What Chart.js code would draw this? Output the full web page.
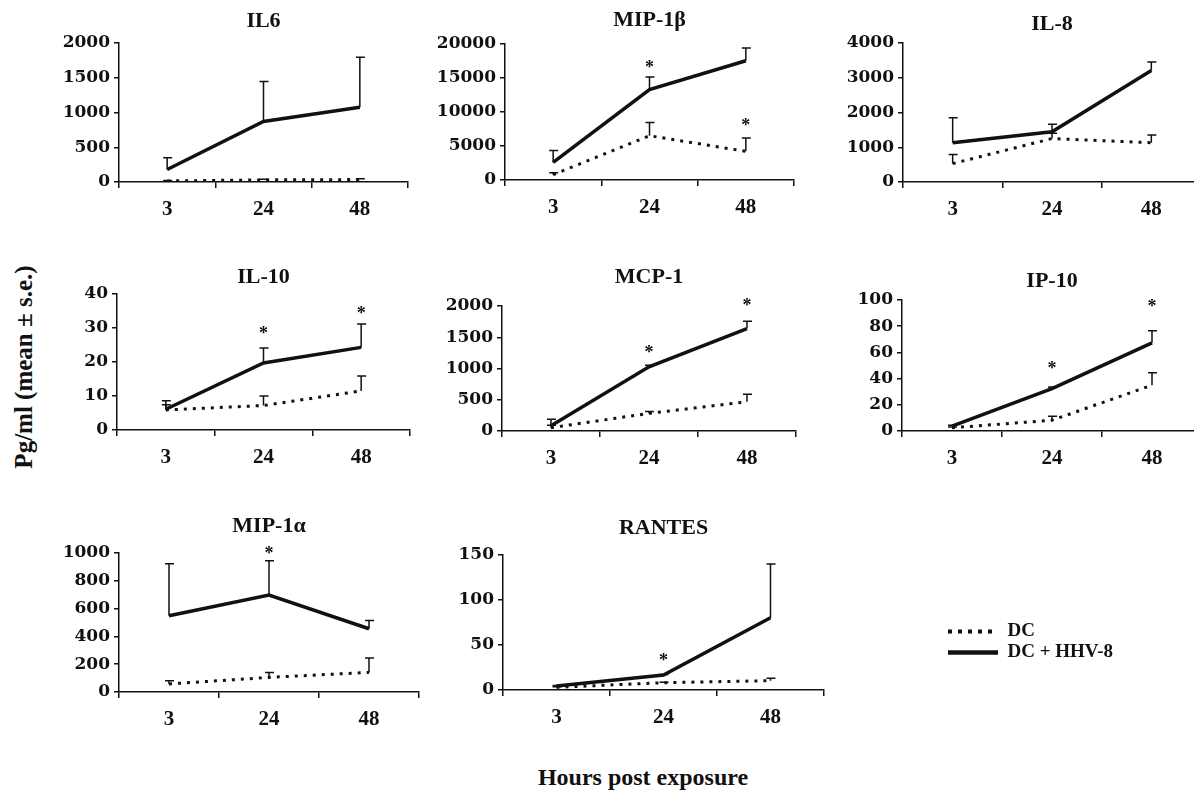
<!DOCTYPE html>
<html>
<head>
<meta charset="utf-8">
<script src="https://cdn.jsdelivr.net/npm/chart.js@4.4.1/dist/chart.umd.min.js"></script>
<style>
  html, body { margin: 0; padding: 0; background: #fff; }
  #fig { position: relative; width: 1194px; height: 791px; overflow: hidden; }
  #fig canvas { position: absolute; }
  .axis-title {
    position: absolute;
    font-family: "Liberation Serif", "Times New Roman", serif;
    font-weight: bold;
    color: #111;
    white-space: nowrap;
  }
  #ytitle { left: 24px; top: 367px; font-size: 25px; transform: translate(-50%, -50%) rotate(-90deg); }
  #xtitle { left: 643px; top: 777px; font-size: 24px; transform: translate(-50%, -50%); }
</style>
</head>
<body>
<div id="fig">
  <div class="axis-title" id="ytitle">Pg/ml (mean ± s.e.)</div>
  <div class="axis-title" id="xtitle">Hours post exposure</div>
</div>
<script>
// hours after exposure (x categories)
const hours = ['3', '24', '48'];

// cytokine levels, pg/ml: mean and upper s.e. for DC alone and DC + HHV-8
const il6Dc = [15, 30, 35];
const il6DcSe = [8, 10, 12];
const il6Hhv = [180, 870, 1075];
const il6HhvSe = [170, 575, 720];
const il6Stars = [null, null, null];

const mip1bDc = [780, 6510, 4210];
const mip1bDcSe = [300, 1960, 1960];
const mip1bHhv = [2590, 13280, 17540];
const mip1bHhvSe = [1760, 1870, 1860];
const mip1bStars = [null, 16800, 8380];

const il8Dc = [530, 1250, 1130];
const il8DcSe = [260, 150, 220];
const il8Hhv = [1130, 1445, 3210];
const il8HhvSe = [720, 220, 240];
const il8Stars = [null, null, null];

const il10Dc = [5.9, 7.2, 11.5];
const il10DcSe = [1.5, 2.8, 4.4];
const il10Hhv = [6.1, 19.7, 24.3];
const il10HhvSe = [2.5, 4.4, 6.9];
const il10Stars = [null, 29, 35];

const mcp1Dc = [53, 282, 468];
const mcp1DcSe = [40, 30, 122];
const mcp1Hhv = [85, 1027, 1639];
const mcp1HhvSe = [102, 26, 117];
const mcp1Stars = [null, 1290, 2040];

const ip10Dc = [2.5, 8.2, 35];
const ip10DcSe = [0.5, 3, 9.4];
const ip10Hhv = [3.8, 32.4, 67.3];
const ip10HhvSe = [0.5, 1.1, 9.2];
const ip10Stars = [null, 49, 97];

const mip1aDc = [58, 105, 141];
const mip1aDcSe = [23, 36, 104];
const mip1aHhv = [549, 698, 455];
const mip1aHhvSe = [374, 247, 60];
const mip1aStars = [null, 1010, null];

const rantesDc = [3, 8.1, 10.4];
const rantesDcSe = [0.5, 0.5, 2.6];
const rantesHhv = [4.4, 16.7, 80.3];
const rantesHhvSe = [0.5, 0.5, 59.7];
const rantesStars = [null, 35, null];

const INK = '#111';
const SERIF = '"Liberation Serif", "Times New Roman", serif';
const Y_W = 80;        // fixed y-axis width
const X_H = 40;        // fixed x-axis height
const TITLE_SIZE = 22;
const TITLE_LH = TITLE_SIZE * 1.2;

// one entry per small chart; box = plot area [left, top, right, bottom] on the page
const panels = [
  { name: 'IL6',     dc: il6Dc,   dcSe: il6DcSe,   hhv: il6Hhv,   hhvSe: il6HhvSe,   stars: il6Stars,   max: 2000,  step: 500,  box: [119, 43, 408, 182],   titleY: 21 },
  { name: 'MIP-1β',  dc: mip1bDc, dcSe: mip1bDcSe, hhv: mip1bHhv, hhvSe: mip1bHhvSe, stars: mip1bStars, max: 20000, step: 5000, box: [505, 44, 794, 180],   titleY: 20 },
  { name: 'IL-8',    dc: il8Dc,   dcSe: il8DcSe,   hhv: il8Hhv,   hhvSe: il8HhvSe,   stars: il8Stars,   max: 4000,  step: 1000, box: [903, 43, 1201, 182],  titleY: 24 },
  { name: 'IL-10',   dc: il10Dc,  dcSe: il10DcSe,  hhv: il10Hhv,  hhvSe: il10HhvSe,  stars: il10Stars,  max: 40,    step: 10,   box: [117, 294, 410, 430],  titleY: 277 },
  { name: 'MCP-1',   dc: mcp1Dc,  dcSe: mcp1DcSe,  hhv: mcp1Hhv,  hhvSe: mcp1HhvSe,  stars: mcp1Stars,  max: 2000,  step: 500,  box: [502, 306, 796, 431],  titleY: 277 },
  { name: 'IP-10',   dc: ip10Dc,  dcSe: ip10DcSe,  hhv: ip10Hhv,  hhvSe: ip10HhvSe,  stars: ip10Stars,  max: 100,   step: 20,   box: [902, 300, 1202, 431], titleY: 281 },
  { name: 'MIP-1α',  dc: mip1aDc, dcSe: mip1aDcSe, hhv: mip1aHhv, hhvSe: mip1aHhvSe, stars: mip1aStars, max: 1000,  step: 200,  box: [119, 553, 419, 692],  titleY: 526 },
  { name: 'RANTES',  dc: rantesDc, dcSe: rantesDcSe, hhv: rantesHhv, hhvSe: rantesHhvSe, stars: rantesStars, max: 150, step: 50, box: [503, 555, 824, 690], titleY: 528 }
];

// upward s.e. whiskers with a small cap
const errorBars = {
  id: 'errorBars',
  afterDatasetsDraw(chart) {
    const ctx = chart.ctx;
    const y = chart.scales.y;
    ctx.save();
    ctx.strokeStyle = INK;
    ctx.lineWidth = 1.5;
    chart.data.datasets.forEach((ds, di) => {
      const meta = chart.getDatasetMeta(di);
      ds.se.forEach((se, i) => {
        const px = meta.data[i].x;
        const top = y.getPixelForValue(ds.data[i] + se);
        ctx.beginPath();
        ctx.moveTo(px, y.getPixelForValue(ds.data[i]));
        ctx.lineTo(px, top);
        ctx.moveTo(px - 4, top);
        ctx.lineTo(px + 5, top);
        ctx.stroke();
      });
    });
    ctx.restore();
  }
};

// significance asterisks
const stars = {
  id: 'stars',
  afterDatasetsDraw(chart, args, opts) {
    const ctx = chart.ctx;
    const x = chart.scales.x, y = chart.scales.y;
    ctx.save();
    ctx.font = 'bold 18px ' + SERIF;
    ctx.fillStyle = INK;
    ctx.textAlign = 'center';
    ctx.textBaseline = 'middle';
    opts.values.forEach((v, i) => {
      if (v == null) return;
      ctx.fillText('*', x.getPixelForValue(i), y.getPixelForValue(v) + 3);
    });
    ctx.restore();
  }
};

const fig = document.getElementById('fig');

panels.forEach(p => {
  const [left, top, right, bottom] = p.box;
  const cTop = Math.round(p.titleY - TITLE_LH / 2);
  const canvas = document.createElement('canvas');
  canvas.width = right - left + Y_W + 4;
  canvas.height = bottom - cTop + X_H;
  canvas.style.left = (left - Y_W) + 'px';
  canvas.style.top = cTop + 'px';
  fig.appendChild(canvas);

  new Chart(canvas, {
    type: 'line',
    data: {
      labels: hours,
      datasets: [
        { label: 'DC', data: p.dc, se: p.dcSe, borderColor: INK, borderWidth: 3, borderDash: [3, 6] },
        { label: 'DC + HHV-8', data: p.hhv, se: p.hhvSe, borderColor: INK, borderWidth: 3.5 }
      ]
    },
    options: {
      responsive: false,
      animation: false,
      devicePixelRatio: 1,
      elements: { point: { radius: 0 }, line: { tension: 0 } },
      layout: { padding: { top: 0, left: 0, bottom: 0, right: 4 } },
      scales: {
        x: {
          offset: true,
          grid: { drawOnChartArea: false, offset: true, tickLength: 6, color: INK, lineWidth: 1.5 },
          border: { color: INK, width: 1.5 },
          ticks: { color: INK, font: { family: SERIF, size: 21, weight: 'bold' }, padding: 9, maxRotation: 0, autoSkip: false },
          afterFit(scale) { scale.height = X_H; }
        },
        y: {
          min: 0,
          max: p.max,
          grid: { drawOnChartArea: false, tickLength: 5, color: INK, lineWidth: 1.5 },
          border: { color: INK, width: 1.5 },
          ticks: {
            stepSize: p.step,
            color: INK,
            font: { family: '"DejaVu Serif", serif', size: 17, weight: 'bold' },
            padding: 4,
            callback: v => String(v)
          },
          afterFit(scale) { scale.width = Y_W; }
        }
      },
      plugins: {
        title: {
          display: true,
          text: p.name,
          fullSize: false,
          color: INK,
          font: { family: SERIF, size: TITLE_SIZE, weight: 'bold', lineHeight: 1.2 },
          padding: { top: 0, bottom: top - cTop - TITLE_LH }
        },
        legend: { display: false },
        tooltip: { enabled: false },
        stars: { values: p.stars }
      }
    },
    plugins: [errorBars, stars]
  });
});

// key for the two line styles, in the empty cell
const keyCanvas = document.createElement('canvas');
keyCanvas.width = 240;
keyCanvas.height = 80;
keyCanvas.style.left = '946px';
keyCanvas.style.top = '620px';
fig.appendChild(keyCanvas);

new Chart(keyCanvas, {
  type: 'line',
  data: {
    labels: [],
    datasets: [
      { label: 'DC', data: [], borderColor: INK, borderWidth: 4, borderDash: [4, 6] },
      { label: 'DC + HHV-8', data: [], borderColor: INK, borderWidth: 4.5 }
    ]
  },
  options: {
    responsive: false,
    animation: false,
    devicePixelRatio: 1,
    scales: { x: { display: false }, y: { display: false } },
    plugins: {
      tooltip: { enabled: false },
      legend: {
        position: 'left',
        align: 'start',
        maxWidth: 236,
        labels: {
          usePointStyle: true,
          pointStyleWidth: 50,
          padding: 2,
          color: INK,
          font: { family: SERIF, size: 19, weight: 'bold' },
          generateLabels(chart) {
            return chart.data.datasets.map((ds, i) => ({
              text: ds.label,
              pointStyle: 'line',
              lineWidth: ds.borderWidth,
              lineDash: ds.borderDash || [],
              strokeStyle: ds.borderColor,
              fillStyle: ds.borderColor,
              fontColor: INK,
              datasetIndex: i,
              hidden: false
            }));
          }
        }
      }
    }
  }
});
</script>
</body>
</html>
